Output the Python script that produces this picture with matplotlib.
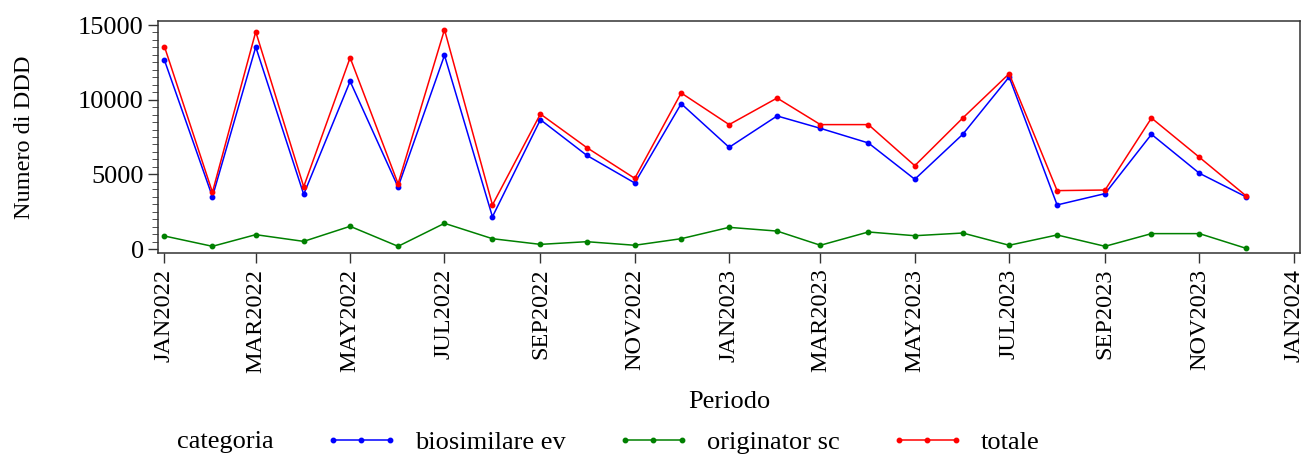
import datetime as dt
import matplotlib
matplotlib.use('Agg')
import matplotlib.pyplot as plt
import matplotlib.dates as mdates
from matplotlib.ticker import MultipleLocator, FuncFormatter

plt.rcParams['font.family'] = ['Liberation Serif', 'DejaVu Serif']

# monthly periods Jan 2022 .. Dec 2023
periodo = [dt.date(2022 + (i // 12), i % 12 + 1, 1) for i in range(24)]

biosimilare_ev = [12640, 3500, 13530, 3660, 11230, 4150, 12970, 2160,
                  8660, 6270, 4420, 9730, 6810, 8910, 8080, 7100,
                  4670, 7680, 11520, 2950, 3710, 7680, 5070, 3500]
originator_sc = [870, 180, 960, 510, 1520, 180, 1720, 690,
                 310, 490, 250, 690, 1450, 1200, 250, 1140,
                 890, 1070, 250, 940, 180, 1030, 1030, 50]
totale = [13550, 3800, 14550, 4170, 12810, 4370, 14690, 2950,
          9040, 6790, 4730, 10450, 8330, 10110, 8330, 8330,
          5580, 8770, 11740, 3910, 3950, 8770, 6140, 3570]

series = [('biosimilare ev', biosimilare_ev, '#0000ff'),
          ('originator sc', originator_sc, '#008000'),
          ('totale', totale, '#ff0000')]

fig = plt.figure(figsize=(13.06, 4.54), dpi=100)
ax = fig.add_axes([0.1212, 0.442, 0.8742, 0.5118])

handles = []
for name, vals, col in series:
    h, = ax.plot(periodo, vals, color=col, lw=1.1, marker='o', ms=3.2,
                 label=name)
    handles.append(h)

# axes
ax.set_ylim(-290, 15270)
ax.set_xlim(dt.date(2022, 1, 1) - dt.timedelta(days=4.3),
            dt.date(2024, 1, 1) + dt.timedelta(days=4.3))
ax.yaxis.set_major_locator(MultipleLocator(5000))
ax.yaxis.set_minor_locator(MultipleLocator(500))
ax.xaxis.set_major_locator(mdates.MonthLocator(bymonth=[1, 3, 5, 7, 9, 11]))
ax.xaxis.set_major_formatter(
    FuncFormatter(lambda v, p: mdates.num2date(v).strftime('%b%Y').upper()))
ax.tick_params(axis='both', length=7, width=1, color='#333333')
ax.tick_params(axis='y', labelsize=19)
ax.tick_params(axis='x', labelsize=17.5, labelrotation=90, pad=4)
ax.tick_params(axis='y', which='minor', length=4, color='#333333')
for s in ax.spines.values():
    s.set_color('#333333')
    s.set_linewidth(1.1)

ax.set_ylabel('Numero di DDD', fontsize=17.5, labelpad=31)
ax.set_xlabel('Periodo', fontsize=19, labelpad=13)

# legend row at the bottom
fig.text(177 / 1306, 1 - 442 / 454, 'categoria', fontsize=19, va='center', ha='left')
fig.legend(handles=handles, loc='center left', bbox_to_anchor=(325 / 1306, 1 - 442 / 454),
           ncol=3, frameon=False, fontsize=19, numpoints=3, handlelength=2.75,
           handletextpad=0.65, columnspacing=1.95, borderpad=0, borderaxespad=0)

fig.savefig('out.png', dpi=100)
